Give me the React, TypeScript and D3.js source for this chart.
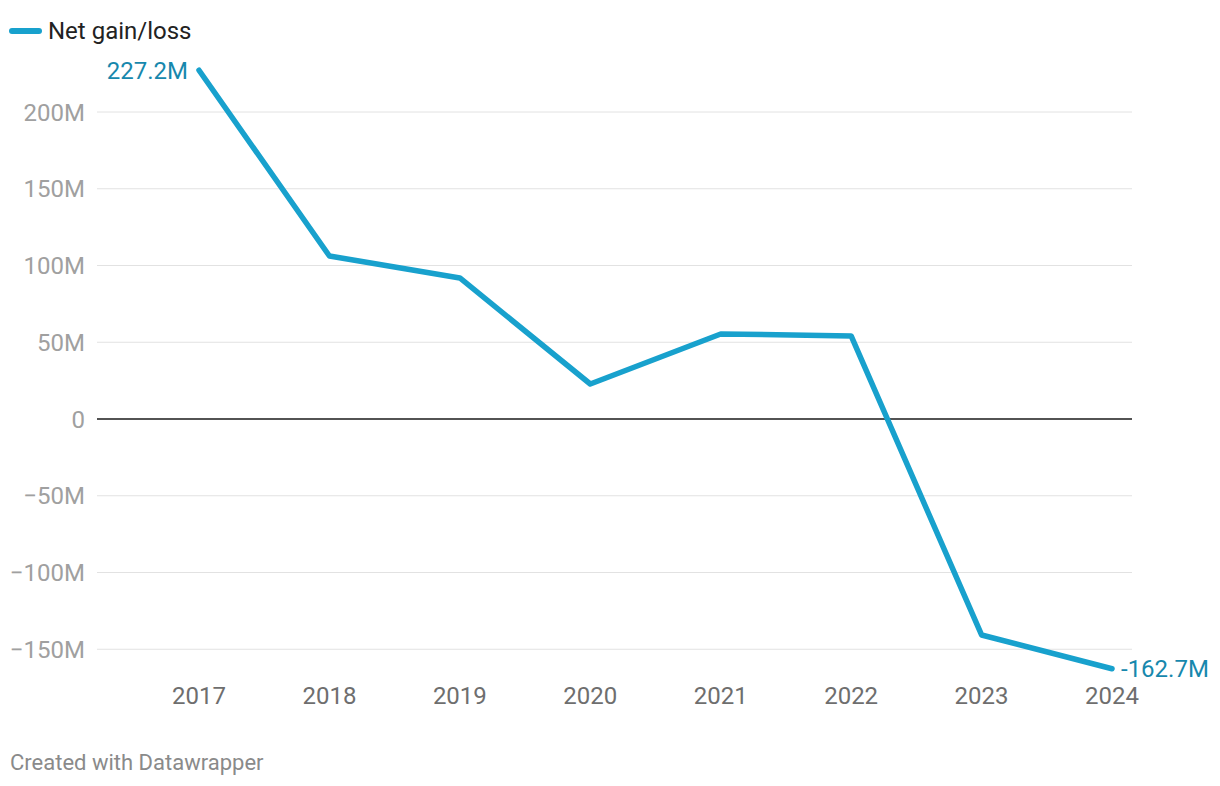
import React from 'react';
import * as d3 from 'd3';

const years = ['2017', '2018', '2019', '2020', '2021', '2022', '2023', '2024'];
const netValues = [227.2, 106.2, 91.9, 22.8, 55.4, 54.1, -140.7, -162.7];
const yTicks = [200, 150, 100, 50, 0, -50, -100, -150];

const W = 1220;
const H = 786;
const font = 'Roboto, "Noto Sans", sans-serif';

export default function App() {
  const x = d3.scalePoint<string>().domain(years).range([199, 1112]);
  const y = d3.scaleLinear().domain([0, 200]).range([419, 112]);

  const line = d3
    .line<number>()
    .x((_, i) => x(years[i]) as number)
    .y(d => y(d));

  const fmtTick = (v: number) => (v === 0 ? '0' : (v < 0 ? '\u2212' : '') + Math.abs(v) + 'M');
  const last = netValues.length - 1;

  return (
    <svg
      width={W}
      height={H}
      style={{ position: 'absolute', left: 0, top: 0, background: '#fff' }}
      fontFamily={font}
    >
      {/* legend */}
      <line x1={12} x2={39} y1={31} y2={31} stroke="#18a1cd" strokeWidth={6} strokeLinecap="round" />
      <text x={48} y={39} fontSize={24} fill="#222">Net gain/loss</text>

      {/* grid + y labels */}
      {yTicks.map(t => (
        <g key={t}>
          <line
            x1={97}
            x2={1132}
            y1={y(t)}
            y2={y(t)}
            stroke={t === 0 ? '#1a1a1a' : '#e2e2e2'}
            strokeWidth={t === 0 ? 1.5 : 1}
          />
          <text x={85} y={y(t) + 8.5} textAnchor="end" fontSize={24} fill="#a0a0a0">
            {fmtTick(t)}
          </text>
        </g>
      ))}

      {/* x labels */}
      {years.map(yr => (
        <text key={yr} x={x(yr)} y={704} textAnchor="middle" fontSize={24} fill="#6e6e6e">
          {yr}
        </text>
      ))}

      {/* series */}
      <path
        d={line(netValues) || ''}
        fill="none"
        stroke="#18a1cd"
        strokeWidth={5.5}
        strokeLinejoin="round"
        strokeLinecap="round"
      />

      {/* end labels */}
      <text x={(x(years[0]) as number) - 11} y={y(netValues[0]) + 9} textAnchor="end" fontSize={24} fill="#1788ad">
        {netValues[0].toFixed(1)}M
      </text>
      <text x={(x(years[last]) as number) + 9} y={y(netValues[last]) + 8} textAnchor="start" fontSize={24} fill="#1788ad">
        {netValues[last].toFixed(1)}M
      </text>

      <text x={10} y={770} fontSize={22} fill="#8a8a8a">Created with Datawrapper</text>
    </svg>
  );
}
